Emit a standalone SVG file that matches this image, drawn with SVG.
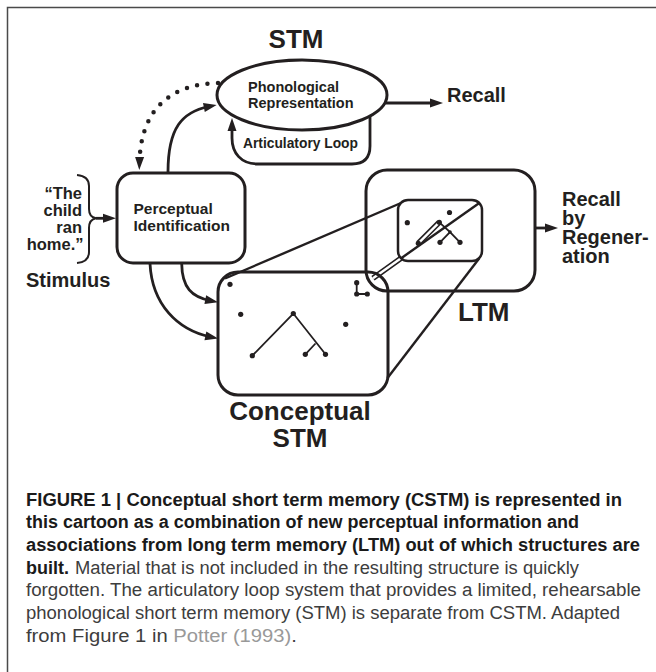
<svg xmlns="http://www.w3.org/2000/svg" width="656" height="672" viewBox="0 0 656 672">
<defs>
<style>
.ln{fill:none;stroke:#231f20;stroke-width:3}
.in{fill:none;stroke:#231f20;stroke-width:2.5}
.pj{fill:none;stroke:#231f20;stroke-width:2.4}
.tr{fill:none;stroke:#231f20;stroke-width:1.8}
.ar{fill:none;stroke:#231f20;stroke-width:2.8;marker-end:url(#ah)}
.dt{fill:none;stroke:#231f20;stroke-width:4.5;stroke-linecap:round;stroke-dasharray:0 10.5;marker-end:url(#ah)}
.tb{fill:none;stroke:#231f20;stroke-width:5.6}
.tw{fill:none;stroke:#ffffff;stroke-width:2.4}
.dot{fill:#231f20}
.b{font-family:"Liberation Sans",Arial,Helvetica,sans-serif;font-weight:bold;fill:#231f20}
.cap{font-family:"Liberation Sans",Arial,Helvetica,sans-serif;font-size:18px}
.cb{font-weight:bold;fill:#1a1a1a}
.cr{fill:#3d3d3d}
</style>
<marker id="ah" markerUnits="userSpaceOnUse" markerWidth="14" markerHeight="10" refX="5" refY="4.5" orient="auto" overflow="visible"><path d="M0,0 L13,4.5 L0,9 z" fill="#231f20"/></marker>
</defs>
<rect width="656" height="672" fill="#ffffff"/>
<path d="M7.5,672 V7.5 H656" fill="none" stroke="#4a4a4a" stroke-width="1.5"/>

<g id="projection">
<path class="pj" d="M225,278.5 L401,203"/>
<path class="pj" d="M387.5,378 L479.5,258"/>
<path class="pj" d="M400.5,258.7 L480,202.5"/>
<path class="tb" d="M373,278.2 L401,258.3"/>
<path class="tw" d="M373,278.2 L401,258.3"/>
</g>

<g id="stm-title"><text class="b" x="296" y="48" font-size="26" text-anchor="middle">STM</text></g>

<g id="phonological-representation">
<ellipse class="ln" cx="302" cy="95" rx="85" ry="35"/>
<text class="b" x="248" y="91.7" font-size="14.5">Phonological</text>
<text class="b" x="248" y="108" font-size="14.5">Representation</text>
</g>

<g id="articulatory-loop-label"><text class="b" x="243" y="148" font-size="13.8">Articulatory Loop</text></g>

<g id="recall"><text class="b" x="447" y="102" font-size="20">Recall</text></g>

<g id="stimulus">
<text class="b" x="82" y="199" font-size="16.5" text-anchor="end">“The</text>
<text class="b" x="82" y="216" font-size="16.5" text-anchor="end">child</text>
<text class="b" x="82" y="232.7" font-size="16.5" text-anchor="end">ran</text>
<text class="b" x="83.5" y="249.5" font-size="16.5" text-anchor="end">home.”</text>
<path d="M77,175 Q89,176 89,186 L89,209 Q89,217 96,218.3 Q89,219.6 89,228 L89,252 Q89,262 77,263" fill="none" stroke="#231f20" stroke-width="2"/>
<text class="b" x="26" y="286.7" font-size="20">Stimulus</text>
</g>

<g id="perceptual-identification">
<rect class="ln" x="117" y="173" width="128" height="90" rx="16"/>
<text class="b" x="133.5" y="214" font-size="15.5">Perceptual</text>
<text class="b" x="133.5" y="231" font-size="15.5">Identification</text>
</g>

<g id="ltm">
<rect class="ln" x="366" y="170" width="169" height="121" rx="21"/>
<path class="tb" d="M418.3,243.3 L439.3,222.3"/>
<path class="tw" d="M418.3,243.3 L439.3,222.3"/>
<path class="tr" d="M439.3,222.3 L450,232 M440,242.3 L450,232 L460,242.3"/>
<rect class="in" x="398" y="200" width="84" height="61" rx="10"/>
<circle class="dot" cx="407.3" cy="222.7" r="2.6"/>
<circle class="dot" cx="449.5" cy="212.5" r="2.6"/>
<circle class="dot" cx="439.3" cy="222.3" r="2.6"/>
<circle class="dot" cx="450" cy="232" r="1.8"/>
<circle class="dot" cx="418.3" cy="243.3" r="2.6"/>
<circle class="dot" cx="440" cy="242.3" r="2.6"/>
<circle class="dot" cx="460" cy="242.3" r="2.6"/>
<text class="b" x="458" y="321" font-size="26">LTM</text>
</g>

<g id="conceptual-stm">
<rect class="ln" x="218" y="272" width="170" height="123" rx="20"/>
<circle class="dot" cx="230" cy="284.3" r="2.6"/>
<circle class="dot" cx="240.7" cy="314.3" r="2.6"/>
<circle class="dot" cx="345.7" cy="324.3" r="2.6"/>
<path class="tr" d="M356.7,282.7 V294 H367.3"/>
<circle class="dot" cx="356.7" cy="282.7" r="2.6"/>
<circle class="dot" cx="356.7" cy="294" r="2.6"/>
<circle class="dot" cx="367.3" cy="294" r="2.6"/>
<path class="tr" d="M252.3,355.7 L293.3,313.5 L325.5,354.3 M315.5,343.5 L305.3,354.3"/>
<circle class="dot" cx="252.3" cy="355.7" r="2.6"/>
<circle class="dot" cx="293.3" cy="313.5" r="2.6"/>
<circle class="dot" cx="325.5" cy="354.3" r="2.6"/>
<circle class="dot" cx="305.3" cy="354.3" r="2.6"/>
<text class="b" x="300" y="420" font-size="26" text-anchor="middle">Conceptual</text>
<text class="b" x="300" y="446.5" font-size="26" text-anchor="middle">STM</text>
</g>

<g id="recall-by-regeneration">
<text class="b" x="562" y="205.5" font-size="20">Recall</text>
<text class="b" x="562" y="225" font-size="20">by</text>
<text class="b" x="562" y="244" font-size="20">Regener-</text>
<text class="b" x="562" y="263" font-size="20">ation</text>
</g>

<g id="connectors">
<path class="ar" d="M385,103 L435,103"/>
<path class="ar" d="M535,228 L550,228"/>
<path class="ar" d="M96,218.3 L108,218.3"/>
<path class="ar" d="M168,172 C168,128 182,112 208.8,106.5"/>
<path class="dt" d="M218,83 C175,84 141,105 139.5,162"/>
<path class="ar" d="M370,116 L370,146 Q370,164 352,164 L258,164 C241,164 232,153 232,138 L232,126"/>
<path class="ar" d="M181.7,263.5 C182,288 192,297 210.2,300.6"/>
<path class="ar" d="M150,263.5 C152,305 178,330 210.3,336.9"/>
</g>

<g id="caption">
<text class="cap cb" x="26" y="505.5" textLength="596" lengthAdjust="spacingAndGlyphs">FIGURE 1 | Conceptual short term memory (CSTM) is represented in</text>
<text class="cap cb" x="26" y="528.2" textLength="553" lengthAdjust="spacingAndGlyphs">this cartoon as a combination of new perceptual information and</text>
<text class="cap cb" x="26" y="551" textLength="614" lengthAdjust="spacingAndGlyphs">associations from long term memory (LTM) out of which structures are</text>
<text class="cap cb" x="26" y="573.7">built.</text>
<text class="cap cr" x="75" y="573.7" textLength="504" lengthAdjust="spacingAndGlyphs">Material that is not included in the resulting structure is quickly</text>
<text class="cap cr" x="26" y="596.4" textLength="615" lengthAdjust="spacingAndGlyphs">forgotten. The articulatory loop system that provides a limited, rehearsable</text>
<text class="cap cr" x="26" y="619.1" textLength="594" lengthAdjust="spacingAndGlyphs">phonological short term memory (STM) is separate from CSTM. Adapted</text>
<text class="cap cr" x="26" y="641.8" textLength="271" lengthAdjust="spacingAndGlyphs">from Figure 1 in <tspan fill="#999999">Potter (1993)</tspan>.</text>
</g>
</svg>
